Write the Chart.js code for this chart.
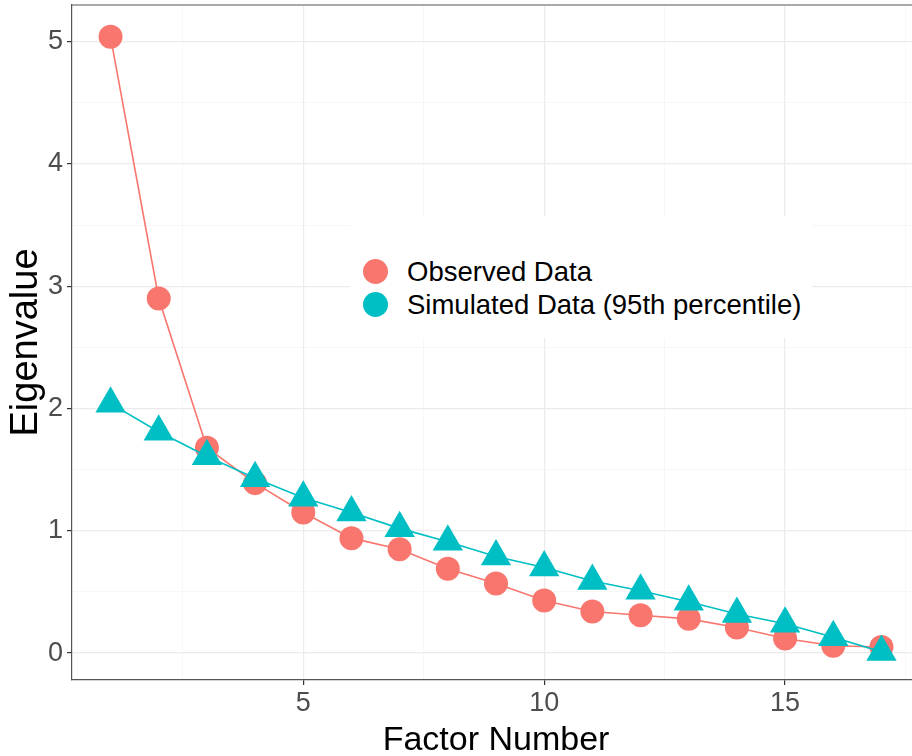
<!DOCTYPE html>
<html>
<head>
<meta charset="utf-8">
<script src="https://cdn.jsdelivr.net/npm/chart.js@4"></script>
<style>
  html, body { margin: 0; padding: 0; background: #fff; overflow: hidden; }
  #wrap { position: absolute; left: 0; top: 0; width: 930px; height: 756px; }
  #legenda {
    position: absolute; left: 350px; top: 216px; width: 462px; height: 122px;
    background: #fff; font-family: "Liberation Sans", Arial, sans-serif; font-size: 27.5px; color: #000;
  }
  .item { position: absolute; left: 57px; height: 33px; line-height: 33px; white-space: nowrap; }
  .chave { position: absolute; left: 13px; width: 25px; height: 25px; border-radius: 50%; }
</style>
</head>
<body>
<div id="wrap">
  <canvas id="grafico" width="930" height="756"></canvas>
  <div id="legenda"></div>
</div>
<script>
// Dados
const fatores = [1, 2, 3, 4, 5, 6, 7, 8, 9, 10, 11, 12, 13, 14, 15, 16, 17];
const observados = [5.04, 2.90, 1.68, 1.39, 1.15, 0.94, 0.85, 0.69, 0.57, 0.43, 0.34, 0.31, 0.28, 0.21, 0.12, 0.06, 0.05];
const simulados = [2.04, 1.81, 1.61, 1.43, 1.27, 1.15, 1.02, 0.91, 0.79, 0.70, 0.59, 0.51, 0.42, 0.32, 0.24, 0.13, 0.01];
const nomesSeries = ['Observed Data', 'Simulated Data (95th percentile)'];
const coresSeries = ['#F8766D', '#00BFC4'];

// Ticks (maiores com rótulo, menores só grade)
const ticksX = [2.5, 5, 7.5, 10, 12.5, 15, 17.5];
const rotulosX = [5, 10, 15];
const ticksY = [0, 0.5, 1, 1.5, 2, 2.5, 3, 3.5, 4, 4.5, 5];
const rotulosY = [0, 1, 2, 3, 4, 5];

const pontos = (ys) => fatores.map((f, i) => ({ x: f, y: ys[i] }));

function gradeCor(rotulos) {
  return ctx => rotulos.includes(ctx.tick && ctx.tick.value) ? '#EBEBEB' : '#F3F3F3';
}
function gradeLargura(rotulos) {
  return ctx => rotulos.includes(ctx.tick && ctx.tick.value) ? 1.2 : 0.7;
}
function tickCor(rotulos) {
  return ctx => rotulos.includes(ctx.tick && ctx.tick.value) ? '#333333' : 'rgba(0,0,0,0)';
}

// Borda superior do painel
const bordaTopo = {
  id: 'bordaTopo',
  afterDraw(chart) {
    const { ctx, chartArea } = chart;
    ctx.save();
    ctx.strokeStyle = '#555';
    ctx.lineWidth = 1.2;
    ctx.beginPath();
    ctx.moveTo(chartArea.left, chartArea.top);
    ctx.lineTo(chartArea.right, chartArea.top);
    ctx.stroke();
    ctx.restore();
  }
};

const fonte = '"Liberation Sans", Arial, sans-serif';

function semPadding(s) {
  s.paddingTop = 0;
  s.paddingBottom = 0;
  s.paddingLeft = 0;
  s.paddingRight = 0;
}

new Chart(document.getElementById('grafico').getContext('2d'), {
  type: 'line',
  data: {
    datasets: [
      {
        label: nomesSeries[0],
        data: pontos(observados),
        borderColor: coresSeries[0],
        backgroundColor: coresSeries[0],
        borderWidth: 1.6,
        pointStyle: 'circle',
        pointRadius: 12,
        pointBorderWidth: 0,
        pointBackgroundColor: coresSeries[0],
        tension: 0,
        order: 2
      },
      {
        label: nomesSeries[1],
        data: pontos(simulados),
        borderColor: coresSeries[1],
        backgroundColor: coresSeries[1],
        borderWidth: 1.6,
        pointStyle: 'triangle',
        pointRadius: 17.5,
        pointBorderWidth: 0,
        pointBackgroundColor: coresSeries[1],
        tension: 0,
        order: 1
      }
    ]
  },
  options: {
    responsive: false,
    animation: false,
    layout: { autoPadding: false, padding: { top: 5, right: 10, left: 0, bottom: 0 } },
    plugins: { legend: { display: false }, tooltip: { enabled: false } },
    scales: {
      x: {
        type: 'linear',
        min: 0.2,
        max: 17.8,
        afterBuildTicks: s => { s.ticks = ticksX.map(v => ({ value: v })); },
        afterFit: s => { s.height = 76; semPadding(s); },
        ticks: {
          autoSkip: false,
          maxRotation: 0,
          padding: 2,
          color: '#4D4D4D',
          font: { family: fonte, size: 27 },
          callback: v => rotulosX.includes(v) ? String(v) : ''
        },
        grid: {
          color: gradeCor(rotulosX),
          lineWidth: gradeLargura(rotulosX),
          tickColor: tickCor(rotulosX),
          tickLength: 5,
          tickWidth: 1.2
        },
        border: { display: true, color: '#555', width: 1.2 },
        title: {
          display: true,
          text: 'Factor Number',
          color: '#000',
          font: { family: fonte, size: 34, lineHeight: 0.9 },
          padding: { top: 0, bottom: 0 }
        }
      },
      y: {
        type: 'linear',
        min: -0.22,
        max: 5.3,
        afterBuildTicks: s => { s.ticks = ticksY.map(v => ({ value: v })); },
        afterFit: s => { s.width = 72; semPadding(s); },
        ticks: {
          autoSkip: false,
          padding: 4,
          color: '#4D4D4D',
          font: { family: fonte, size: 27 },
          callback: v => rotulosY.includes(v) ? String(v) : ''
        },
        grid: {
          color: gradeCor(rotulosY),
          lineWidth: gradeLargura(rotulosY),
          tickColor: tickCor(rotulosY),
          tickLength: 5,
          tickWidth: 1.2
        },
        border: { display: true, color: '#555', width: 1.2 },
        title: {
          display: true,
          text: 'Eigenvalue',
          color: '#000',
          font: { family: fonte, size: 38, lineHeight: 1 },
          padding: { top: 8, bottom: 0 }
        }
      }
    }
  },
  plugins: [bordaTopo]
});

// Legenda em HTML
const legenda = document.getElementById('legenda');
legenda.innerHTML = nomesSeries.map((nome, i) => `
  <div class="item" style="top:${39 + i * 33}px;">${nome}</div>
  <div class="chave" style="top:${43 + i * 33}px;background:${coresSeries[i]};"></div>
`).join('');
</script>
</body>
</html>
